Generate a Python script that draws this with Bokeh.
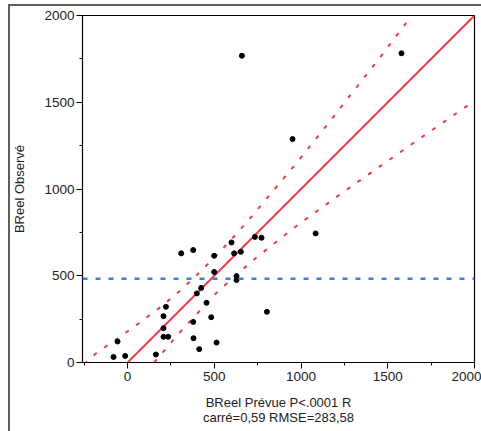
from bokeh.plotting import figure
from bokeh.models import Range1d, SingleIntervalTicker, Span
from bokeh.embed import file_html
from bokeh.resources import INLINE

pred = [-81, -14, -58, 163, 221, 207, 207, 207, 234, 309, 378, 399, 424, 455,
        378, 380, 413, 482, 513, 499, 499, 599, 614, 653, 628, 628, 734, 772,
        1084, 803, 1579, 951, 659]
obs = [32, 38, 121, 46, 321, 267, 198, 148, 148, 629, 648, 398, 430, 344,
       234, 140, 77, 261, 115, 615, 522, 692, 629, 638, 498, 475, 724, 719,
       744, 292, 1782, 1288, 1768]

# Fit line (actual = predicted)
fit_x = [-260, 2000]
fit_y = [-260, 2000]

# Confidence curves
upper_x = [-250, -183, -58, 67, 192, 307, 418, 519, 630, 730, 970, 1162, 1396, 1441, 1633]
upper_y = [-10, 52, 138, 228, 321, 417, 522, 625, 744, 859, 1145, 1384, 1684, 1739, 1993]
lower_x = [153, 303, 509, 624, 739, 980, 1225, 1600, 1983]
lower_y = [0, 176, 398, 503, 602, 792, 969, 1232, 1497]

# Mean of observed
mean_obs = 482

x_label = "BReel Prévue P<.0001 R\ncarré=0,59 RMSE=283,58"
y_label = "BReel Observé"

RED = "#f0394a"
BLUE = "#3d7cf2"
TXT = "#222222"
FONT = "Liberation Sans"

p = figure(width=481, height=431, output_backend="svg", toolbar_location=None,
           x_range=Range1d(-260, 2000), y_range=Range1d(0, 2000),
           min_border_left=82, min_border_right=7, min_border_top=15,
           min_border_bottom=69)
p.grid.visible = False
p.outline_line_color = "black"
p.outline_line_width = 1.2
p.background_fill_color = "white"
p.border_fill_color = "white"
p.border_fill_alpha = 0

for ax in (p.xaxis[0], p.yaxis[0]):
    ax.ticker = SingleIntervalTicker(interval=500, num_minor_ticks=2)
    ax.major_tick_out = 6
    ax.major_tick_in = 0
    ax.minor_tick_out = 3
    ax.minor_tick_in = 0
    ax.axis_line_color = "black"
    ax.major_tick_line_color = "black"
    ax.minor_tick_line_color = "black"
    ax.major_label_text_font = FONT
    ax.major_label_text_font_size = "13.5px"
    ax.major_label_text_color = TXT
    ax.axis_label_text_font = FONT
    ax.axis_label_text_font_size = "13px"
    ax.axis_label_text_font_style = "normal"
    ax.axis_label_text_color = TXT
    ax.axis_label_text_line_height = 1.0

p.xaxis.axis_label = x_label
p.yaxis.axis_label = y_label
p.xaxis.major_label_standoff = 3
p.yaxis.major_label_standoff = 2
p.xaxis.axis_label_standoff = 11
p.yaxis.axis_label_standoff = 14

p.add_layout(Span(location=mean_obs, dimension="width", line_color=BLUE,
                  line_width=2.5, line_dash="5 8"))
p.line(upper_x, upper_y, line_color=RED, line_width=2, line_dash="4 9")
p.line(lower_x, lower_y, line_color=RED, line_width=2, line_dash="4 9")
p.line(fit_x, fit_y, line_color=RED, line_width=2)
p.scatter(pred, obs, size=5, fill_color="black", line_color="black")

p.styles = {
    "background": "linear-gradient(#5e5e5e,#5e5e5e) 8px 4px / 2px 100% no-repeat, "
                  "linear-gradient(#5e5e5e,#5e5e5e) 8px 4px / 100% 2px no-repeat, #ffffff"
}

open("out.html", "w").write(file_html(p, INLINE))
